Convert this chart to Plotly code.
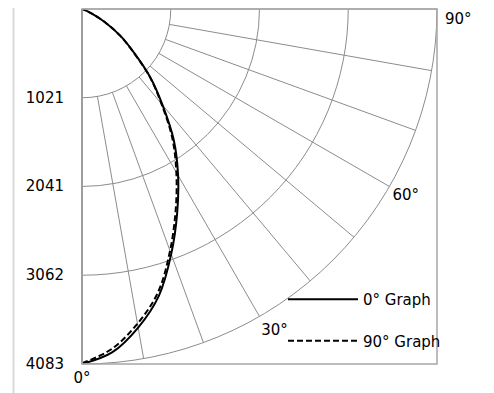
import plotly.graph_objects as go

# Intensity readings (cd) every 5 degrees
angles = [0, 5, 10, 15, 20, 25, 30, 35, 40, 45, 50, 55, 60, 65, 70, 75, 80, 85, 90]
graph_0 = [4083, 3965, 3720, 3415, 3000, 2590, 2210, 1840, 1440, 1110, 780, 540, 310, 120, 20, 0, 0, 0, 0]
graph_90 = [4075, 3925, 3675, 3375, 2960, 2550, 2170, 1810, 1420, 1100, 770, 535, 305, 120, 20, 0, 0, 0, 0]

radial_ticks = [1021, 2041, 3062, 4083]
spoke_angles = [10, 20, 30, 40, 50, 60, 70, 80]
angle_ticks = [0, 30, 60, 90]
angle_labels = [f"{a}°" for a in angle_ticks]

FONT = "DejaVu Sans"
GRID = "#8c8c8c"
W, H = 494, 393
# the page puts the figure 8px in from the window corner, so positions are shifted by that
LEFT, TOP, SIDE = 74, 1, 355

fig = go.Figure()

# spokes run from the first ring to the outer edge, like the original
spoke_r, spoke_t = [], []
for a in spoke_angles:
    spoke_r += [radial_ticks[0], radial_ticks[-1], None]
    spoke_t += [a, a, None]
fig.add_trace(go.Scatterpolar(
    r=spoke_r, theta=spoke_t, mode="lines",
    line=dict(color=GRID, width=1), showlegend=False, hoverinfo="skip",
))

fig.add_trace(go.Scatterpolar(
    r=graph_0, theta=angles, mode="lines", name="0° Graph",
    line=dict(color="black", width=2, shape="spline"), legendgroup="a",
))
fig.add_trace(go.Scatterpolar(
    r=graph_90, theta=angles, mode="lines", name="90° Graph",
    line=dict(color="black", width=2, dash="6px,3px", shape="spline"), legendgroup="b",
))

fig.update_layout(
    width=W, height=H,
    margin=dict(l=0, r=0, t=0, b=0),
    paper_bgcolor="white",
    font=dict(family=FONT, size=15, color="black"),
    polar=dict(
        domain=dict(x=[LEFT / W, (LEFT + SIDE) / W], y=[1 - (TOP + SIDE) / H, 1 - TOP / H]),
        sector=[-90, 0],
        bgcolor="rgba(0,0,0,0)",
        angularaxis=dict(
            rotation=-90, direction="counterclockwise",
            tickmode="array", tickvals=angle_ticks,
            # the 90° label sits at the very top edge, it is placed below as an annotation
            ticktext=angle_labels[:-1] + [""],
            showgrid=False, ticks="", linecolor=GRID, linewidth=1,
            tickfont=dict(family=FONT, size=15),
        ),
        radialaxis=dict(
            range=[0, radial_ticks[-1]], tickmode="array", tickvals=radial_ticks,
            showgrid=True, gridcolor=GRID, gridwidth=1,
            linecolor="#808080", linewidth=2,
            ticks="outside", ticklen=11, tickcolor="rgba(0,0,0,0)",
            tickangle=-90, tickfont=dict(family=FONT, size=15),
        ),
    ),
    legend=dict(
        x=275 / W, y=1 - 275 / H, xanchor="left", yanchor="top",
        bgcolor="rgba(0,0,0,0)", itemwidth=70,
        traceorder="grouped", tracegroupgap=19,
        font=dict(family=FONT, size=15),
    ),
    shapes=[
        dict(type="rect", xref="paper", yref="paper",
             x0=LEFT / W, x1=(LEFT + SIDE) / W, y0=1 - (TOP + SIDE) / H, y1=1 - TOP / H,
             line=dict(color="#a6a6a6", width=1.5)),
        dict(type="line", xref="paper", yref="paper", x0=5.5 / W, x1=5.5 / W, y0=0, y1=1,
             line=dict(color="#d9d9d9", width=2)),
        dict(type="line", xref="paper", yref="paper", x0=482 / W, x1=482 / W, y0=0, y1=1,
             line=dict(color="#d9d9d9", width=2)),
    ],
    annotations=[
        dict(text=angle_labels[-1], x=(LEFT + SIDE + 6) / W, y=1, xref="paper", yref="paper",
             xanchor="left", yanchor="top", showarrow=False,
             font=dict(family=FONT, size=15, color="black")),
    ],
)

fig.write_html("out.html")
